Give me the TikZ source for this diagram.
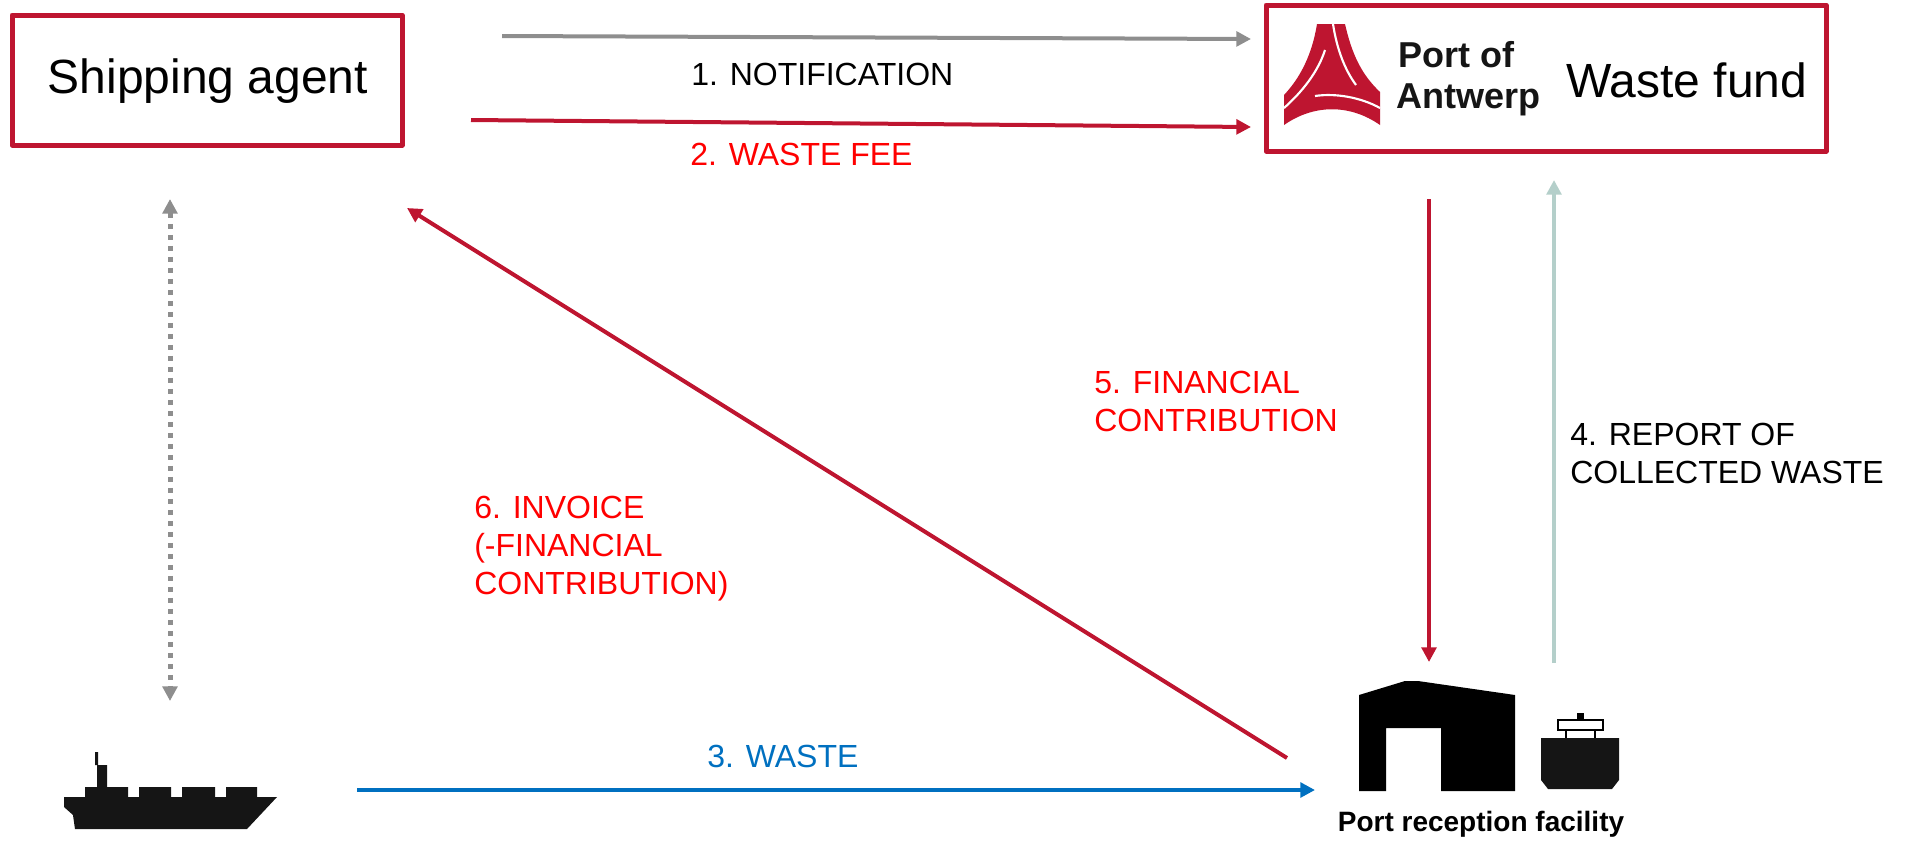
\documentclass[tikz,border=0pt]{standalone}
\usepackage{fontspec}
\setmainfont{Liberation Sans}
\usetikzlibrary{arrows.meta}
\definecolor{pared}{HTML}{BE1530}
\definecolor{txtred}{HTML}{FF0000}
\definecolor{pablue}{HTML}{0070C0}
\definecolor{pagrey}{HTML}{8E8E8E}
\definecolor{palight}{HTML}{B4CFCA}
\definecolor{inkblack}{HTML}{151515}
\tikzset{
  framebox/.style={draw=pared,line width=3.75pt,fill=white,line join=round},
  bigtext/.style={font=\fontsize{36pt}{42pt}\selectfont,text=black,inner sep=0pt},
  label/.style={font=\fontsize{24pt}{28pt}\selectfont,anchor=west,align=left,inner sep=0pt},
  flow/.style={line width=3pt,-{Triangle[length=11pt,width=11pt]}},
  dotflow/.style={line width=3.75pt,pagrey,dash pattern=on 3.75pt off 4.5pt,
    {Triangle[length=11pt,width=11pt]}-{Triangle[length=11pt,width=11pt]}},
  solidicon/.style={fill=black,draw=none},
}
\begin{document}
\begin{tikzpicture}[x=0.75pt,y=-0.75pt]
\useasboundingbox (0,0) rectangle (1905,840);
% boxes
\node[framebox,minimum width=390*0.75pt,minimum height=130*0.75pt,inner sep=0pt] (agentbox) at (207,80) {};
\node[bigtext] (agent) at (208,81) {Shipping agent};
\node[framebox,minimum width=560*0.75pt,minimum height=146*0.75pt,inner sep=0pt] (fundbox) at (1546,78) {};
\node[bigtext,anchor=west] (fund) at (1566,80) {Waste fund};
% logo
\fill[pared] (1317,24) -- (1345,24) .. controls (1352,55) and (1362,75) .. (1380,92) -- (1380,125)
  .. controls (1350,104) and (1314,104) .. (1284,125) -- (1284,95)
  .. controls (1300,78) and (1312,55) .. (1317,24) -- cycle;
\draw[white,line width=1.6pt] (1333,24) .. controls (1337,50) and (1345,70) .. (1356,85);
\draw[white,line width=1.6pt] (1325,50) .. controls (1318,72) and (1302,92) .. (1284,108);
\draw[white,line width=1.6pt] (1380,108) .. controls (1360,97) and (1335,93) .. (1315,96);
\node[font=\bfseries\fontsize{27pt}{30pt}\selectfont,inner sep=0pt,anchor=west,text=inkblack] (portof) at (1398,55) {Port of};
\node[font=\bfseries\fontsize{27pt}{30pt}\selectfont,inner sep=0pt,anchor=west,text=inkblack] (antwerp) at (1396,100) {Antwerp};
% warehouse
\fill[solidicon] (1359,695) -- (1405,681) -- (1418,681) -- (1515,695) -- (1515,791) -- (1441,791)
  -- (1441,728) -- (1386,728) -- (1386,791) -- (1359,791) -- cycle;
% barge
\fill[inkblack] (1541,738) -- (1619,738) -- (1619,780) -- (1612,789) -- (1548,789) -- (1541,780) -- cycle;
\fill[black] (1577,713) rectangle (1584,720);
\draw[black,line width=1.5pt,fill=white] (1558,720) rectangle (1603,730);
\draw[black,line width=1.5pt] (1566,730) -- (1566,738) (1595,730) -- (1595,738);
\node[inner sep=0pt,font=\bfseries\fontsize{21pt}{24pt}\selectfont] (prf) at (1481,824) {Port reception facility};
% ship
\fill[inkblack] (64,797) -- (85,797) -- (85,787) -- (97,787) -- (97,765) -- (95,765) -- (95,752) -- (98,752) -- (98,765)
  -- (107,765) -- (107,787) -- (128,787) -- (128,797) -- (139,797) -- (139,787) -- (171,787) -- (171,797)
  -- (182,797) -- (182,787) -- (215,787) -- (215,797) -- (226,797) -- (226,787) -- (257,787) -- (257,797)
  -- (277,797) -- (247,829) -- (75,829) -- (73,815) -- (64,807) -- cycle;
% labels
\node[label] (l1) at (691,74) {1. NOTIFICATION};
\node[label,text=txtred] (l2) at (690,154) {2. WASTE FEE};
\node[label,text=pablue] (l3) at (707,756) {3. WASTE};
\node[label] (l4) at (1570,453) {4. REPORT OF\\[0.5pt]COLLECTED WASTE};
\node[label,text=txtred] (l5) at (1094,401) {5. FINANCIAL\\[0.5pt]CONTRIBUTION};
\node[label,text=txtred] (l6) at (474,549) {6. INVOICE\\[0.5pt](-FINANCIAL\\[0.5pt]CONTRIBUTION)};
% connector ends
\coordinate (n1a) at (502,36);   \coordinate (n1b) at (1251,39);
\coordinate (n2a) at (471,120);  \coordinate (n2b) at (1251,127);
\coordinate (n3a) at (357,790);  \coordinate (n3b) at (1315,790);
\coordinate (n4a) at (1554,663); \coordinate (n4b) at (1554,180);
\coordinate (n5a) at (1429,199); \coordinate (n5b) at (1429,662);
\coordinate (n6a) at (1287,758); \coordinate (n6b) at (407,208);
\coordinate (nda) at (170,199);  \coordinate (ndb) at (170,701);
% connectors
\draw[flow,pagrey] (n1a) -- (n1b);
\draw[flow,pared] (n2a) -- (n2b);
\draw[flow,pablue] (n3a) -- (n3b);
\draw[flow,palight] (n4a) -- (n4b);
\draw[flow,pared] (n5a) -- (n5b);
\draw[flow,pared] (n6a) -- (n6b);
\draw[dotflow] (nda) -- (ndb);
\end{tikzpicture}
\end{document}
